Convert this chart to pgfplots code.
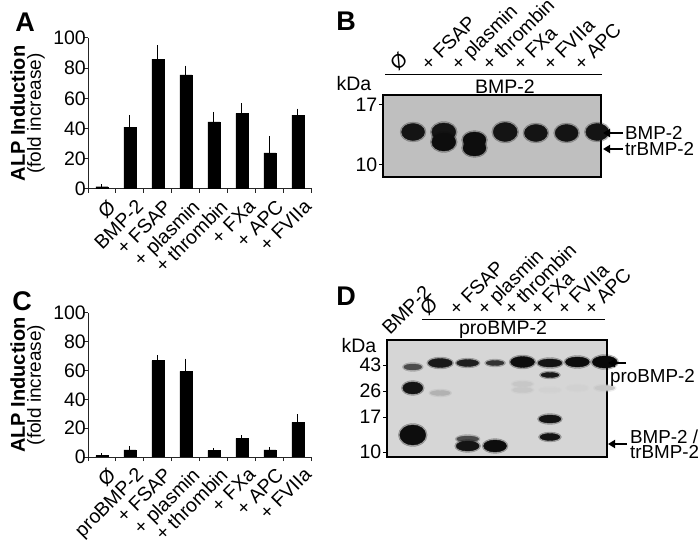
\documentclass[border=0pt]{standalone}
\usepackage{fontspec}
\setmainfont{Liberation Sans}
\usepackage{pgfplots}
\pgfplotsset{compat=1.18}
\usepackage{pgfplotstable}
\usetikzlibrary{arrows.meta}
\newcommand{\fs}{\fontsize{19.5bp}{21bp}\selectfont}
\newcommand{\fr}{\fontsize{18.8bp}{20bp}\selectfont}
\pgfdeclareplotmark{nothing}{}

\pgfplotstableread{
x y e
0 1.5 0
1 41 6.5
2 86 7.5
3 75.5 4.5
4 44.5 5
5 50 5
6 24 9.5
7 49 2.5
}\dataA
\pgfplotstableread{
x y e
0 1 0
1 5 0.8
2 67 1.8
3 59.5 7
4 4.6 0
5 13 0.5
6 4.9 0
7 24 3.8
}\dataC
\pgfplotstableread{
x y rx ry d
0 37 11.5 8.5 92
1 37 12 9 92
1 47 12 9 95
2 45 11.5 8 95
2 53 11.5 8 95
3 37 12 9.5 92
4 38 11.5 8.5 92
5 38 11.5 8.5 92
6 37 11.5 8.5 92
}\bandsB
\pgfplotstableread{
x y rx ry d
0 27 9 3 70
0 48 10 6 92
0 95 13 10 95
1 23 12 4.5 90
1 53 10 2.5 30
2 23 11 3.5 88
2 99 11 3 70
2 106 11.5 5 92
3 23 9 2.5 80
3 106 11.5 6 95
4 22 12 5.5 95
4 44 10 2.5 22
4 50 10 2.5 22
5 23 12 4 92
5 35 9 2.5 90
5 50 10 2 18
5 79 11 4 92
5 97 10 3.5 92
6 22 12 5 95
6 48 10 2.5 18
7 22 12.5 6 97
7 48 10 2.5 22
}\bandsD

\pgfplotsset{
  barchart/.style={
    anchor=south west, scale only axis, width=224bp,
    xmin=-0.5, xmax=7.5, ymin=0, ymax=100,
    axis x line*=bottom, axis y line*=left,
    axis line style={line width=1bp, black!85},
    ytick={0,20,...,100}, xtick={0,...,7},
    minor xtick={-0.5,0.5,...,7.5}, minor ytick={0,20,...,100},
    major tick length=0bp, minor tick length=4bp, tick align=outside,
    minor tick style={line width=1bp, black!85},
    /pgf/number format/assume math mode=true,
    yticklabel style={font=\fs, inner sep=2bp},
    xticklabel style={rotate=45, anchor=north east, inner sep=0bp, font=\fs, yshift=-10bp, xshift=-3bp},
    ylabel={{\fontsize{20bp}{19bp}\selectfont\bfseries ALP Induction}\\[1bp]{\fontsize{19bp}{19bp}\selectfont (fold increase)}},
    ylabel style={align=center, at={(axis description cs:-0.27,0.5)}, anchor=center},
  },
  band/.style={scatter, only marks, mark=nothing,
    visualization depends on={\thisrow{rx} \as \rx},
    visualization depends on={\thisrow{ry} \as \ry},
    visualization depends on={\thisrow{d} \as \dk},
    scatter/@pre marker code/.code={%
      \fill[black!\dk, opacity=0.25] (0,0) ellipse [x radius=\rx bp+1.5bp, y radius=\ry bp+1.5bp];
      \fill[black!\dk] (0,0) ellipse [x radius=\rx bp, y radius=\ry bp];},
    scatter/@post marker code/.code={}},
  blot/.style={anchor=south west, scale only axis, ymin=0, y dir=reverse,
    xtick=\empty, ytick pos=left, tick align=outside, major tick length=4bp,
    axis line style={line width=1.2bp, black},
    tick style={line width=1bp, black},
    /pgf/number format/assume math mode=true,
    yticklabel style={font=\fs, inner sep=1.5bp}},
}

\begin{document}
\begin{tikzpicture}
\path[use as bounding box] (0bp,0bp) rectangle (700bp,543bp);

% Panel A
\begin{axis}[barchart, at={(88bp,354bp)}, height=151bp,
  xticklabels={Ø, BMP-2, + FSAP, + plasmin, + thrombin, + FXa, + APC, + FVIIa}]
\addplot[ybar, bar width=12bp, fill=black, draw=black,
  error bars/.cd, y dir=plus, y explicit,
  error bar style={line width=1bp, black}, error mark options={line width=1bp, mark size=2.5bp}]
  table[x=x, y=y, y error=e] {\dataA};
\end{axis}

% Panel C
\begin{axis}[barchart, at={(88bp,86bp)}, height=144bp,
  xticklabels={Ø, proBMP-2, + FSAP, + plasmin, + thrombin, + FXa, + APC, + FVIIa}]
\addplot[ybar, bar width=12bp, fill=black, draw=black,
  error bars/.cd, y dir=plus, y explicit,
  error bar style={line width=1bp, black}, error mark options={line width=1bp, mark size=2.5bp}]
  table[x=x, y=y, y error=e] {\dataC};
\end{axis}

% Panel B blot
\begin{axis}[blot, at={(383bp,366bp)}, width=218bp, height=82bp,
  xmin=-0.49, xmax=6.61, ymax=82, ytick={10,70}, yticklabels={17,10},
  axis background/.style={fill=black!25}]
\addplot[band] table[x=x, y=y] {\bandsB};
\end{axis}

% Panel D blot
\begin{axis}[blot, at={(387bp,86bp)}, width=220bp, height=117bp,
  xmin=-0.47, xmax=7.55, ymax=117, ytick={25,51,77,112}, yticklabels={43,26,17,10},
  axis background/.style={fill=black!16}]
\addplot[band] table[x=x, y=y] {\bandsD};
\end{axis}

% panel letters
\node[font=\fontsize{27bp}{27bp}\selectfont\bfseries] at (25bp,521bp) {A};
\node[font=\fontsize{27bp}{27bp}\selectfont\bfseries] at (346bp,522bp) {B};
\node[font=\fontsize{27bp}{27bp}\selectfont\bfseries] at (22bp,242bp) {C};
\node[font=\fontsize{27bp}{27bp}\selectfont\bfseries] at (346bp,247bp) {D};

% B annotations
\node[font=\fs] at (354bp,459bp) {kDa};
\draw[line width=1bp] (385bp,468bp) -- (602bp,468bp);
\node[font=\fs] at (505bp,456bp) {BMP-2};
\foreach \xx/\lab in {398/Ø, 429/+ FSAP, 459/+ plasmin, 490/+ thrombin, 521/+ FXa, 551/+ FVIIa, 582/+ APC}
  \node[font=\fs, rotate=45, anchor=base west, inner sep=0bp] at (\xx bp,471bp) {\lab};
\draw[line width=2bp, -{Triangle[length=7bp,width=8bp]}] (623bp,410bp) -- (603bp,410bp);
\draw[line width=2bp, -{Triangle[length=7bp,width=8bp]}] (623bp,394bp) -- (603bp,394bp);
\node[font=\fr, anchor=west, inner sep=0bp] at (625bp,410bp) {BMP-2};
\node[font=\fr, anchor=west, inner sep=0bp] at (625bp,394bp) {trBMP-2};

% D annotations
\node[font=\fs] at (359bp,197bp) {kDa};
\draw[line width=1bp] (422bp,223bp) -- (605bp,223bp);
\node[font=\fs] at (503bp,213bp) {proBMP-2};
\node[font=\fs, rotate=45, anchor=base west, inner sep=0bp] at (390bp,207bp) {BMP-2};
\foreach \xx/\lab in {428/Ø, 457/+ FSAP, 485/+ plasmin, 512/+ thrombin, 538/+ FXa, 565/+ FVIIa, 592/+ APC}
  \node[font=\fs, rotate=45, anchor=base west, inner sep=0bp] at (\xx bp,226bp) {\lab};
\draw[line width=2bp, -{Triangle[length=7bp,width=8bp]}] (626bp,180bp) -- (608bp,180bp);
\draw[line width=2bp, -{Triangle[length=7bp,width=8bp]}] (627bp,99bp) -- (608bp,99bp);
\node[font=\fr, anchor=west, inner sep=0bp] at (610bp,165bp) {proBMP-2};
\node[font=\fr, anchor=west, inner sep=0bp] at (630bp,106bp) {BMP-2 /};
\node[font=\fr, anchor=west, inner sep=0bp] at (630bp,91bp) {trBMP-2};
\end{tikzpicture}
\end{document}
